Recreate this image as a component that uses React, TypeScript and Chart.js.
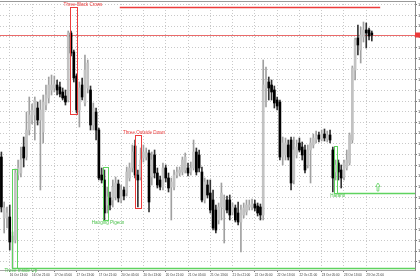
import React, { useEffect, useRef } from 'react';
import { Chart, registerables } from 'chart.js';

Chart.register(...registerables);

// ---------- data (hourly candles, 16 Oct 10:00 .. 23 Oct 23:00) ----------
const opens = [
  1.2843, 1.2782, 1.2782, 1.2783, 1.2758, 1.2760, 1.2825, 1.2827, 1.2853, 1.2843,
  1.2870, 1.2880, 1.2885, 1.2892, 1.2880, 1.2868, 1.2895, 1.2902, 1.2910, 1.2912,
  1.2915, 1.2913, 1.2908, 1.2904, 1.2900, 1.2967, 1.2948, 1.2924, 1.2890, 1.2915,
  1.2897, 1.2912, 1.2910, 1.2875, 1.2888, 1.2870, 1.2825, 1.2820, 1.2795, 1.2802,
  1.2800, 1.2803, 1.2816, 1.2800, 1.2810, 1.2807, 1.2822, 1.2832, 1.2854, 1.2825,
  1.2823, 1.2842, 1.2843, 1.2847, 1.2823, 1.2845, 1.2827, 1.2820, 1.2813, 1.2832,
  1.2822, 1.2813, 1.2813, 1.2825, 1.2827, 1.2828, 1.2830, 1.2832, 1.2828, 1.2832,
  1.2848, 1.2845, 1.2828, 1.2800, 1.2815, 1.2807, 1.2800, 1.2790, 1.2780, 1.2793,
  1.2790, 1.2800, 1.2800, 1.2788, 1.2792, 1.2787, 1.2778, 1.2785, 1.2788, 1.2793,
  1.2793, 1.2796, 1.2794, 1.2793, 1.2785, 1.2912, 1.2918, 1.2915, 1.2910, 1.2900,
  1.2898, 1.2843, 1.2845, 1.2855, 1.2860, 1.2820, 1.2845, 1.2857, 1.2853, 1.2850,
  1.2835, 1.2850, 1.2855, 1.2860, 1.2865, 1.2861, 1.2866, 1.2861, 1.2865, 1.2850,
  1.2828, 1.2837, 1.2830, 1.2823, 1.2832, 1.2837, 1.2860, 1.2930, 1.2962, 1.2950,
  1.2963, 1.2970, 1.2970, 1.2967,
];
const highs = [
  1.2848, 1.2798, 1.2793, 1.2795, 1.2768, 1.2831, 1.2840, 1.2853, 1.2863, 1.2888,
  1.2903, 1.2896, 1.2903, 1.2898, 1.2900, 1.2905, 1.2915, 1.2923, 1.2925, 1.2924,
  1.2920, 1.2918, 1.2912, 1.2910, 1.2969, 1.2969, 1.2950, 1.2926, 1.2918, 1.2922,
  1.2945, 1.2940, 1.2914, 1.2897, 1.2892, 1.2872, 1.2832, 1.2830, 1.2813, 1.2808,
  1.2820, 1.2823, 1.2820, 1.2815, 1.2813, 1.2833, 1.2837, 1.2855, 1.2860, 1.2830,
  1.2852, 1.2855, 1.2852, 1.2850, 1.2848, 1.2850, 1.2832, 1.2824, 1.2837, 1.2835,
  1.2827, 1.2822, 1.2830, 1.2833, 1.2833, 1.2843, 1.2847, 1.2837, 1.2838, 1.2860,
  1.2852, 1.2850, 1.2833, 1.2822, 1.2820, 1.2820, 1.2810, 1.2795, 1.2797, 1.2817,
  1.2805, 1.2804, 1.2805, 1.2797, 1.2795, 1.2798, 1.2795, 1.2797, 1.2800, 1.2800,
  1.2801, 1.2800, 1.2797, 1.2796, 1.2940, 1.2933, 1.2923, 1.2920, 1.2914, 1.2903,
  1.2900, 1.2863, 1.2862, 1.2860, 1.2863, 1.2863, 1.2860, 1.2862, 1.2858, 1.2855,
  1.2855, 1.2862, 1.2866, 1.2869, 1.2868, 1.2870, 1.2871, 1.2869, 1.2870, 1.2853,
  1.2840, 1.2840, 1.2835, 1.2840, 1.2850, 1.2867, 1.2934, 1.2962, 1.2975, 1.2973,
  1.2978, 1.2977, 1.2972, 1.2969,
];
const lows = [
  1.2788, 1.2767, 1.2772, 1.2750, 1.2732, 1.2757, 1.2820, 1.2823, 1.2833, 1.2840,
  1.2865, 1.2876, 1.2860, 1.2875, 1.2810, 1.2857, 1.2890, 1.2897, 1.2905, 1.2908,
  1.2905, 1.2903, 1.2900, 1.2895, 1.2898, 1.2944, 1.2918, 1.2887, 1.2873, 1.2900,
  1.2894, 1.2907, 1.2870, 1.2870, 1.2860, 1.2820, 1.2817, 1.2780, 1.2787, 1.2790,
  1.2793, 1.2800, 1.2798, 1.2797, 1.2800, 1.2804, 1.2819, 1.2828, 1.2822, 1.2793,
  1.2820, 1.2838, 1.2840, 1.2788, 1.2815, 1.2822, 1.2812, 1.2810, 1.2810, 1.2818,
  1.2808, 1.2780, 1.2810, 1.2822, 1.2824, 1.2825, 1.2827, 1.2824, 1.2825, 1.2830,
  1.2825, 1.2828, 1.2798, 1.2797, 1.2802, 1.2787, 1.2770, 1.2767, 1.2776, 1.2780,
  1.2757, 1.2787, 1.2780, 1.2785, 1.2778, 1.2775, 1.2748, 1.2782, 1.2785, 1.2790,
  1.2790, 1.2789, 1.2784, 1.2780, 1.2780, 1.2893, 1.2900, 1.2900, 1.2892, 1.2890,
  1.2840, 1.2835, 1.2840, 1.2840, 1.2810, 1.2816, 1.2842, 1.2848, 1.2840, 1.2827,
  1.2832, 1.2817, 1.2852, 1.2857, 1.2858, 1.2859, 1.2859, 1.2858, 1.2857, 1.2808,
  1.2820, 1.2820, 1.2812, 1.2820, 1.2830, 1.2835, 1.2857, 1.2920, 1.2945, 1.2937,
  1.2958, 1.2952, 1.2960, 1.2959,
];
const closes = [
  1.2793, 1.2792, 1.2787, 1.2758, 1.2764, 1.2827, 1.2832, 1.2840, 1.2842, 1.2870,
  1.2885, 1.2890, 1.2900, 1.2880, 1.2890, 1.2898, 1.2905, 1.2915, 1.2915, 1.2916,
  1.2910, 1.2906, 1.2902, 1.2898, 1.2967, 1.2947, 1.2922, 1.2890, 1.2912, 1.2903,
  1.2930, 1.2937, 1.2875, 1.2892, 1.2870, 1.2822, 1.2820, 1.2787, 1.2803, 1.2795,
  1.2813, 1.2817, 1.2802, 1.2810, 1.2804, 1.2828, 1.2832, 1.2848, 1.2825, 1.2820,
  1.2840, 1.2848, 1.2847, 1.2798, 1.2840, 1.2827, 1.2815, 1.2813, 1.2832, 1.2822,
  1.2812, 1.2818, 1.2825, 1.2828, 1.2830, 1.2840, 1.2843, 1.2827, 1.2832, 1.2848,
  1.2828, 1.2832, 1.2800, 1.2818, 1.2805, 1.2790, 1.2772, 1.2770, 1.2793, 1.2807,
  1.2800, 1.2790, 1.2785, 1.2793, 1.2780, 1.2778, 1.2790, 1.2792, 1.2795, 1.2795,
  1.2796, 1.2792, 1.2787, 1.2785, 1.2915, 1.2920, 1.2912, 1.2908, 1.2897, 1.2894,
  1.2843, 1.2857, 1.2857, 1.2843, 1.2817, 1.2850, 1.2853, 1.2850, 1.2845, 1.2830,
  1.2850, 1.2857, 1.2862, 1.2864, 1.2861, 1.2866, 1.2862, 1.2865, 1.2860, 1.2822,
  1.2835, 1.2828, 1.2822, 1.2837, 1.2840, 1.2865, 1.2932, 1.2960, 1.2955, 1.2965,
  1.2970, 1.2967, 1.2964, 1.2965,
];

const timeLabels = [
  '16 Oct 13:00', '16 Oct 21:00', '17 Oct 05:00', '17 Oct 13:00', '17 Oct 21:00',
  '20 Oct 05:00', '20 Oct 13:00', '20 Oct 21:00', '21 Oct 05:00', '21 Oct 13:00',
  '21 Oct 21:00', '22 Oct 05:00', '22 Oct 13:00', '22 Oct 21:00', '23 Oct 05:00',
  '23 Oct 13:00', '23 Oct 21:00',
];
const FIRST_LABEL_BAR = 3;
const BARS_PER_LABEL = 8;
const TOTAL_SLOTS = 149;

const yTicks = [
  1.29952, 1.29845, 1.29738, 1.29631, 1.29524, 1.29416, 1.29309, 1.29202, 1.29095,
  1.28988, 1.28881, 1.28774, 1.28667, 1.2856, 1.28453, 1.28345, 1.28238, 1.28131,
  1.28024, 1.27917, 1.2781, 1.27703, 1.27596, 1.27489, 1.27382,
];
const Y_MIN = 1.273;
const Y_MAX = 1.2999;

// candlestick pattern annotations (bar index / price units)
const patterns = [
  { name: 'Three Black Crows', kind: 'bear', from: 24.6, to: 27.1, top: 1.2993, bottom: 1.2886, textAt: 29.3, textPrice: 1.29955 },
  { name: 'Three Outside Down', kind: 'bear', from: 47.9, to: 50.1, top: 1.2865, bottom: 1.2792, textAt: 51.2, textPrice: 1.2867 },
  { name: 'Hanging Pigeon', kind: 'bull', from: 36.5, to: 38.3, top: 1.2833, bottom: 1.278, textAt: 38.3, textPrice: 1.27775 },
  { name: 'Three Inside Up', kind: 'bull', from: 3.8, to: 5.6, top: 1.2831, bottom: 1.2732, textAt: 7.0, textPrice: 1.2729 },
  { name: 'Harami', kind: 'bull', from: 119.4, to: 120.5, top: 1.2854, bottom: 1.2807, textAt: 120.7, textPrice: 1.28045 },
];
const levels = [
  { kind: 'bear', price: 1.2993, from: 42.5, to: 136 },
  { kind: 'bull', price: 1.2732, from: 3.8, to: null },
  { kind: 'bull', price: 1.2807, from: 120.5, to: null },
];
const arrows = [{ at: 135.2, tip: 1.2817, base: 1.2809 }];

// ---------- styles ----------
const BULL_BODY = '#c2c2c2';
const BEAR_BODY = '#000000';
const BULL_WICK = '#a0a0a0';
const BEAR_WICK = '#333333';
const RED = '#ec3b3b';
const GREEN = '#5fd35f';
const GREEN_TEXT = '#4cc24c';
const GRID = '#c9c9c9';
const FONT = '"Liberation Sans", Arial, sans-serif';

const categories = Array.from({ length: TOTAL_SLOTS }, (_, i) => {
  const k = (i - FIRST_LABEL_BAR) / BARS_PER_LABEL;
  return Number.isInteger(k) && k >= 0 && k < timeLabels.length ? timeLabels[k] : '';
});

const overlayPlugin = {
  id: 'overlay',
  beforeDatasetsDraw(chart: any) {
    const { ctx, chartArea: a, scales } = chart;
    const y = scales.y;
    ctx.save();
    ctx.setLineDash([]);
    // top frame
    ctx.strokeStyle = '#9a9a9a';
    ctx.lineWidth = 1;
    ctx.beginPath();
    ctx.moveTo(a.left, a.top + 0.5);
    ctx.lineTo(a.right, a.top + 0.5);
    ctx.stroke();
    // bid line
    const last = closes[closes.length - 1];
    const py = Math.round(y.getPixelForValue(last)) + 0.5;
    ctx.strokeStyle = '#ea6a6a';
    ctx.beginPath();
    ctx.moveTo(a.left, py);
    ctx.lineTo(a.right, py);
    ctx.stroke();
    ctx.restore();
  },
  afterDatasetsDraw(chart: any) {
    const { ctx, chartArea: a, scales } = chart;
    const x = scales.x;
    const y = scales.y;
    ctx.save();
    ctx.setLineDash([]);
    // level lines
    levels.forEach((l) => {
      const py = Math.round(y.getPixelForValue(l.price)) + 0.5;
      const x1 = x.getPixelForValue(l.from);
      const x2 = l.to === null ? a.right : x.getPixelForValue(l.to);
      ctx.strokeStyle = l.kind === 'bear' ? RED : GREEN;
      ctx.lineWidth = 1.3;
      ctx.beginPath();
      ctx.moveTo(x1, py);
      ctx.lineTo(x2, py);
      ctx.stroke();
    });
    // pattern boxes + names
    ctx.font = `4.6px ${FONT}`;
    ctx.textAlign = 'center';
    ctx.textBaseline = 'middle';
    patterns.forEach((p) => {
      const x1 = Math.round(x.getPixelForValue(p.from)) + 0.5;
      const x2 = Math.round(x.getPixelForValue(p.to)) + 0.5;
      const y1 = Math.round(y.getPixelForValue(p.top)) + 0.5;
      const y2 = Math.round(y.getPixelForValue(p.bottom)) + 0.5;
      ctx.strokeStyle = p.kind === 'bear' ? RED : GREEN;
      ctx.lineWidth = 1;
      ctx.strokeRect(x1, y1, x2 - x1, y2 - y1);
      ctx.fillStyle = p.kind === 'bear' ? RED : GREEN_TEXT;
      const w = ctx.measureText(p.name).width;
      let tx = x.getPixelForValue(p.textAt);
      if (tx - w / 2 < a.left + 3) tx = a.left + 3 + w / 2;
      ctx.fillText(p.name, tx, y.getPixelForValue(p.textPrice));
    });
    // hollow up arrows
    arrows.forEach((ar) => {
      const cx = x.getPixelForValue(ar.at);
      const ty = y.getPixelForValue(ar.tip);
      const by = y.getPixelForValue(ar.base);
      const hw = 2.2;
      const sw = 0.9;
      const hy = ty + 3.5;
      ctx.strokeStyle = GREEN;
      ctx.lineWidth = 0.8;
      ctx.beginPath();
      ctx.moveTo(cx, ty);
      ctx.lineTo(cx + hw, hy);
      ctx.lineTo(cx + sw, hy);
      ctx.lineTo(cx + sw, by);
      ctx.lineTo(cx - sw, by);
      ctx.lineTo(cx - sw, hy);
      ctx.lineTo(cx - hw, hy);
      ctx.closePath();
      ctx.stroke();
    });
    // current price marker on the axis
    const last = closes[closes.length - 1];
    const py = y.getPixelForValue(last);
    ctx.fillStyle = RED;
    ctx.fillRect(a.right, py - 2.5, 8, 5);
    ctx.restore();
  },
};

export default function App() {
  const ref = useRef<HTMLCanvasElement | null>(null);

  useEffect(() => {
    if (!ref.current) return;
    const labeled = new Set<number>();
    categories.forEach((c, i) => { if (c) labeled.add(i); });

    const chart = new Chart(ref.current, {
      type: 'bar',
      data: {
        labels: categories,
        datasets: [
          {
            label: 'body',
            data: opens.map((o, i) => [o, closes[i]]) as any,
            backgroundColor: opens.map((o, i) => (closes[i] >= o ? BULL_BODY : BEAR_BODY)),
            barThickness: 2,
            grouped: false,
            order: 0,
          } as any,
          {
            label: 'wick',
            data: lows.map((l, i) => [l, highs[i]]) as any,
            backgroundColor: opens.map((o, i) => (closes[i] >= o ? BULL_WICK : BEAR_WICK)),
            barThickness: 1,
            grouped: false,
            order: 1,
          } as any,
        ],
      },
      options: {
        animation: false,
        responsive: false,
        maintainAspectRatio: false,
        devicePixelRatio: 1,
        events: [],
        layout: { padding: { top: 1, left: 0, right: 0, bottom: 0 } },
        plugins: { legend: { display: false }, tooltip: { enabled: false } },
        scales: {
          x: {
            type: 'category',
            offset: true,
            grid: {
              offset: false,
              color: (c: any) => (labeled.has(c.index) ? GRID : 'rgba(0,0,0,0)'),
              tickColor: (c: any) => (labeled.has(c.index) ? '#777' : 'rgba(0,0,0,0)'),
              tickLength: 2,
              lineWidth: 1,
            },
            border: { display: true, color: '#a8a8a8', dash: [1, 2] },
            ticks: {
              autoSkip: false,
              maxRotation: 0,
              minRotation: 0,
              align: 'start',
              padding: 1,
              color: '#333',
              font: { size: 3.1, family: FONT },
            },
            afterFit: (s: any) => {
              s.height = 10;
              s.paddingLeft = 0;
              s.paddingRight = 0;
            },
          } as any,
          y: {
            type: 'linear',
            position: 'right',
            min: Y_MIN,
            max: Y_MAX,
            bounds: 'data',
            afterBuildTicks: (s: any) => {
              s.ticks = yTicks.map((v) => ({ value: v }));
            },
            grid: { color: GRID, tickColor: '#777', tickLength: 2, lineWidth: 1 },
            border: { display: true, color: '#8a8a8a', dash: [1, 2] },
            ticks: {
              padding: 1,
              color: '#333',
              font: { size: 4, family: FONT },
              callback: (v: any) => Number(v).toFixed(4),
            },
            afterFit: (s: any) => {
              s.width = 5;
              s.paddingTop = 0;
              s.paddingBottom = 0;
            },
          } as any,
        },
      },
      plugins: [overlayPlugin],
    });
    return () => chart.destroy();
  }, []);

  return (
    <div
      style={{
        position: 'fixed',
        left: 0,
        top: 0,
        width: 420,
        height: 280,
        overflow: 'hidden',
        background: '#fff',
      }}
    >
      <canvas ref={ref} width={420} height={280} style={{ display: 'block' }} />
    </div>
  );
}
